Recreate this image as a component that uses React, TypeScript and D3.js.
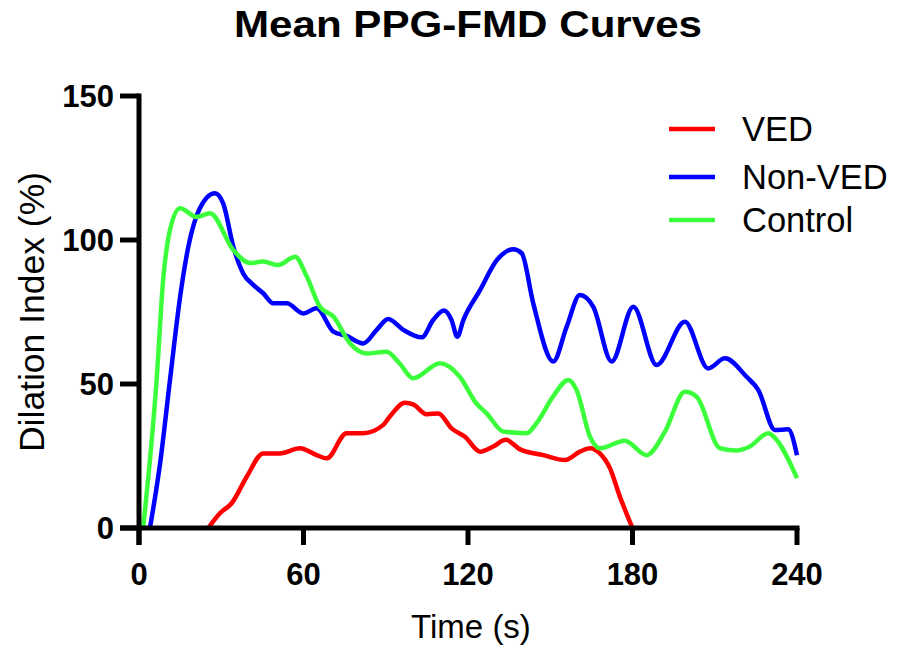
import React from "react";
import * as d3 from "d3";

const xTicks = [0, 60, 120, 180, 240];
const yTicks = [0, 50, 100, 150];

const vedTime = [25.3, 29.5, 33.8, 39.3, 45.3, 51.4, 58.7, 64.8, 68.5, 75.7, 81.8, 89.1, 91.5, 97, 100, 104.9, 109.2, 114, 118.9, 124.4, 129.2, 133.8, 139, 147.5, 155.4, 160.8, 164.5, 168.1, 171.8, 175.4, 180];
const vedValues = [0, 5.1, 8.6, 17.8, 25.9, 25.9, 27.7, 25.3, 24.2, 32.9, 32.9, 35.8, 38.7, 43.5, 42.9, 39.5, 39.8, 34.6, 31.7, 26.5, 28.3, 30.6, 27.3, 25.3, 23.6, 26.5, 27.7, 25.9, 20.7, 10.9, 0];

const nonVedTime = [4, 7.7, 11.3, 15, 18, 22.2, 27.7, 30.7, 34.4, 38, 41.7, 45.3, 49, 53.9, 59.9, 64.8, 70.9, 75.7, 81.8, 86.7, 90.9, 96.4, 103.1, 107.3, 111.2, 114, 116.1, 118.3, 124.4, 130.5, 136.5, 139.6, 143.8, 151.1, 156, 160.8, 165.7, 172.4, 180.3, 188.8, 199.1, 207.6, 213.7, 221.6, 225.9, 232, 236.8, 240];
const nonVedValues = [0, 22.5, 51.4, 80.3, 97.7, 111, 116.2, 112.7, 97.7, 88.4, 84.4, 81.5, 78, 78, 74.5, 76.3, 68.2, 66.7, 64.1, 68.8, 72.6, 68.8, 66.2, 72.2, 75.5, 72.2, 66.4, 72.2, 82.6, 93, 96.8, 95.4, 78, 57.8, 69.9, 80.9, 76.8, 57.8, 76.8, 56.6, 71.6, 55.4, 58.9, 52.5, 47.9, 34, 34.3, 25.3];

const controlTime = [1.5, 6.4, 8.8, 11.3, 15, 21, 25.9, 34.4, 40.5, 45.3, 50.8, 56.9, 61.2, 66, 70.9, 77, 83, 90.3, 95, 100, 109.8, 117, 123, 126.8, 132.9, 141.4, 145, 151, 156.6, 159.6, 164.5, 168.1, 177.2, 185.1, 191.8, 199.1, 203.4, 211.9, 218, 222.8, 229.5, 232, 240];
const controlValues = [0, 51, 86, 103.5, 111, 108, 109.3, 96.5, 92, 92.5, 91.3, 94.2, 87.3, 76.8, 73.4, 64.1, 60.6, 61.2, 57.2, 52, 57.2, 52.5, 43.3, 39.8, 33.5, 32.9, 36.4, 45.6, 51.4, 47.9, 31.7, 27.7, 30.3, 25.3, 33.4, 47.3, 45.6, 27.7, 26.9, 28.3, 32.9, 31.2, 17.3];

const seriesNames = ["VED", "Non-VED", "Control"];
const seriesColors = ["#ff0000", "#0000ff", "#3cff3c"];

export default function App() {
  const W = 901, H = 657;
  const x = d3.scaleLinear().domain([0, 240]).range([139, 797]);
  const y = d3.scaleLinear().domain([0, 150]).range([528, 96]);
  const font = "'Liberation Sans', Arial, sans-serif";

  const series = [
    { name: seriesNames[0], color: seriesColors[0], t: vedTime, v: vedValues },
    { name: seriesNames[1], color: seriesColors[1], t: nonVedTime, v: nonVedValues },
    { name: seriesNames[2], color: seriesColors[2], t: controlTime, v: controlValues },
  ];

  const line = d3
    .line<[number, number]>()
    .x((d) => x(d[0]))
    .y((d) => y(d[1]))
    .curve(d3.curveMonotoneX);

  const x0 = x(0);
  const y0 = y(0);

  return (
    <svg
      width={W}
      height={H}
      style={{ position: "absolute", left: 0, top: 0, background: "#fff" }}
    >
      <rect x={0} y={0} width={W} height={H} fill="#fff" />
      <text
        x={468}
        y={37}
        textAnchor="middle"
        fontFamily={font}
        fontWeight="bold"
        fontSize={36}
        textLength={468}
        lengthAdjust="spacingAndGlyphs"
      >
        Mean PPG-FMD Curves
      </text>

      {/* curves */}
      <g fill="none" strokeWidth={4.5} strokeLinejoin="round" strokeLinecap="butt">
        {series.map((s) => (
          <path
            key={s.name}
            d={line(s.t.map((t, i) => [t, s.v[i]] as [number, number])) || ""}
            stroke={s.color}
          />
        ))}
      </g>

      {/* axes */}
      <g stroke="#000" strokeWidth={5}>
        <line x1={x0} x2={x0} y1={y(150) - 2.5} y2={y0 + 17} />
        <line x1={x(0) - 19} x2={x(240) + 2.5} y1={y0} y2={y0} />
        {yTicks.map((t) => (
          <line key={"yt" + t} x1={x0 - 19} x2={x0} y1={y(t)} y2={y(t)} />
        ))}
        {xTicks.map((t) => (
          <line key={"xt" + t} x1={x(t)} x2={x(t)} y1={y0} y2={y0 + 17} />
        ))}
      </g>
      <g fontFamily={font} fontWeight="bold" fontSize={31} fill="#000">
        {yTicks.map((t) => (
          <text key={"yl" + t} x={114} y={y(t) + 11} textAnchor="end">
            {t}
          </text>
        ))}
        {xTicks.map((t) => (
          <text key={"xl" + t} x={x(t)} y={585} textAnchor="middle">
            {t}
          </text>
        ))}
      </g>
      <text
        x={471}
        y={638}
        textAnchor="middle"
        fontFamily={font}
        fontSize={33}
      >
        Time (s)
      </text>
      <text
        transform={`translate(44, 312) rotate(-90)`}
        textAnchor="middle"
        fontFamily={font}
        fontSize={35}
        textLength={280}
        lengthAdjust="spacingAndGlyphs"
      >
        Dilation Index (%)
      </text>

      {/* legend */}
      {series.map((s, i) => {
        const ly = [129, 177, 220][i];
        return (
          <g key={"lg" + s.name}>
            <line x1={669} x2={715} y1={ly} y2={ly} stroke={s.color} strokeWidth={4.5} />
            <text
              x={742}
              y={ly + 12}
              fontFamily={font}
              fontSize={34.5}
              fill="#000"
            >
              {s.name}
            </text>
          </g>
        );
      })}
    </svg>
  );
}
